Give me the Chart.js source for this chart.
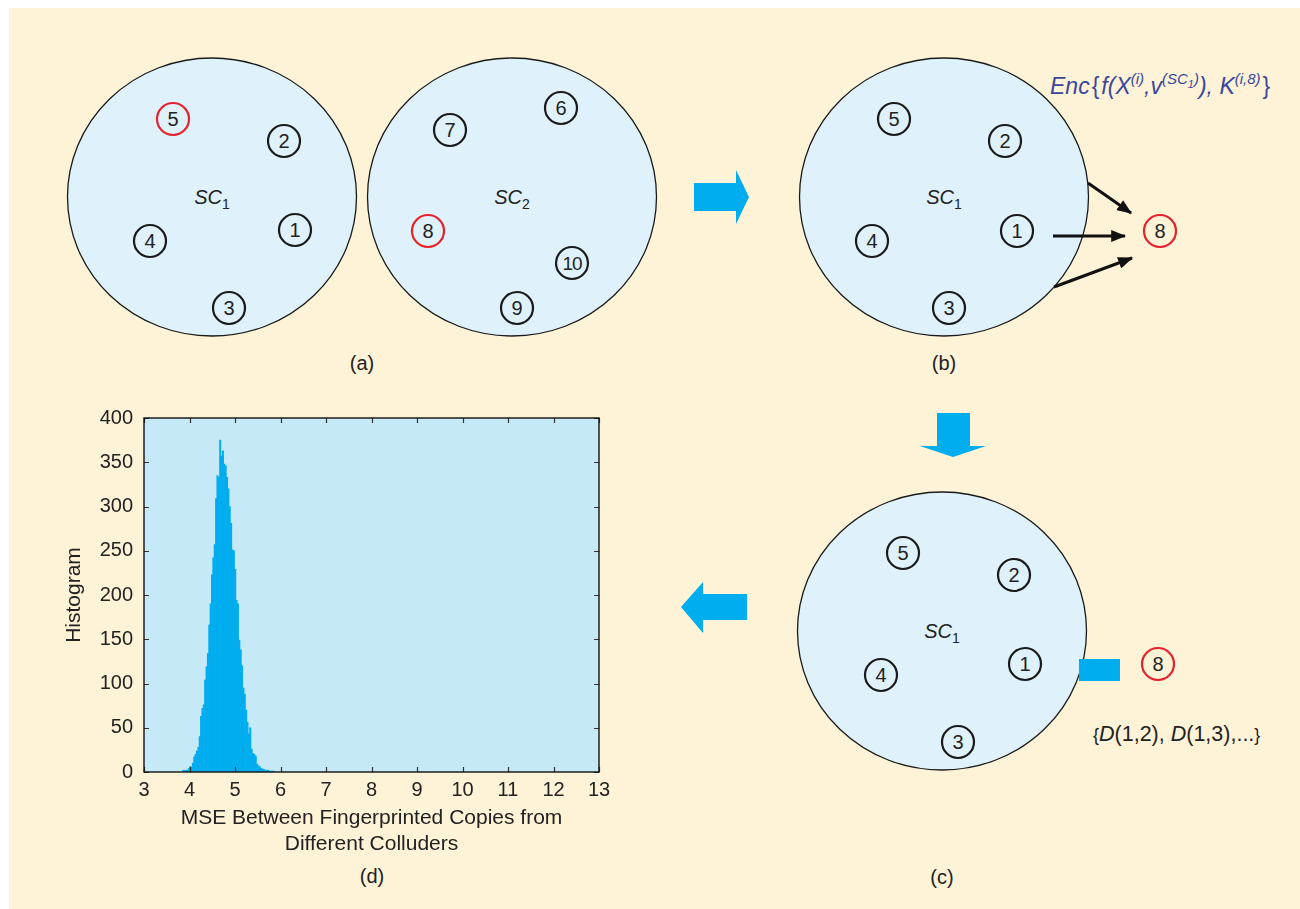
<!DOCTYPE html>
<html>
<head>
<meta charset="utf-8">
<script src="https://cdn.jsdelivr.net/npm/chart.js@4.4.0/dist/chart.umd.min.js"></script>
<style>
  html, body { margin: 0; padding: 0; background: #ffffff; }
  #page { position: relative; width: 1300px; height: 909px; overflow: hidden; font-family: "Liberation Sans", Arial, sans-serif; }
  #cream { position: absolute; left: 9px; top: 8px; right: 0; bottom: 0; background: #fef3d7; }
  #art { position: absolute; left: 0; top: 0; }
  #histo { position: absolute; left: 60px; top: 395px; }
  .lab { position: absolute; font-size: 20px; color: #222; transform: translate(-50%, -50%); white-space: nowrap; }
</style>
</head>
<body>
<div id="page">
  <div id="cream"></div>
  <svg id="art" width="1300" height="909"></svg>
  <canvas id="histo" width="560" height="466"></canvas>
  <div class="lab" style="left:372px; top:876px;">(d)</div>
</div>

<script>
// histogram of MSE between fingerprinted copies
const binCenters = [
  3.865, 3.895, 3.925, 3.955, 3.985, 4.015, 4.045, 4.075, 4.105, 4.135,
  4.165, 4.195, 4.225, 4.255, 4.285, 4.315, 4.345, 4.375, 4.405, 4.435,
  4.465, 4.495, 4.525, 4.555, 4.585, 4.615, 4.645, 4.675, 4.705, 4.735,
  4.765, 4.795, 4.825, 4.855, 4.885, 4.915, 4.945, 4.975, 5.005, 5.035,
  5.065, 5.095, 5.125, 5.155, 5.185, 5.215, 5.245, 5.275, 5.305, 5.335,
  5.365, 5.395, 5.425, 5.455, 5.485, 5.515, 5.545, 5.575, 5.605, 5.635,
  5.665, 5.695, 5.725, 5.755, 5.785, 5.815, 5.845, 5.875
];
const binCounts = [
  2, 2, 2, 2, 4, 6, 6, 10, 17, 20,
  24, 28, 40, 63, 72, 76, 104, 119, 134, 166,
  190, 223, 242, 257, 309, 335, 333, 375, 357, 363,
  348, 346, 333, 320, 300, 281, 251, 250, 229, 194,
  190, 149, 138, 120, 95, 88, 70, 56, 43, 50,
  26, 21, 20, 18, 9, 7, 6, 4, 3.5, 3,
  2, 2, 2, 1, 1, 1, 1, 0.5
];
const xTickLabels = ['3', '4', '5', '6', '7', '8', '9', '10', '11', '12', '13'];
const yTickLabels = ['0', '50', '100', '150', '200', '250', '300', '350', '400'];
const xTitle = ['MSE Between Fingerprinted Copies from', 'Different Colluders'];
const yTitle = 'Histogram';

// ---------- diagram panels (a), (b), (c) ----------
const NS = 'http://www.w3.org/2000/svg';
const svg = document.getElementById('art');
const FONT = '"Liberation Sans", Arial, sans-serif';

function el(tag, attrs, parent) {
  const e = document.createElementNS(NS, tag);
  for (const k in attrs) e.setAttribute(k, attrs[k]);
  (parent || svg).appendChild(e);
  return e;
}

function bigCircle(cx, cy, sub) {
  el('ellipse', { cx, cy, rx: 144.5, ry: 139, fill: '#dff2fb', stroke: '#1a1a1a', 'stroke-width': 1.3 });
  const t = el('text', { x: cx, y: cy + 7, 'text-anchor': 'middle', 'font-family': FONT, 'font-size': 20, fill: '#222' });
  const a = el('tspan', { 'font-style': 'italic' }, t); a.textContent = 'SC';
  const b = el('tspan', { dy: 5, 'font-size': 14 }, t); b.textContent = sub;
}

function node(cx, cy, label, red) {
  el('circle', { cx, cy, r: 16, fill: 'none', stroke: red ? '#e4222c' : '#1a1a1a', 'stroke-width': 2.2 });
  const t = el('text', { x: cx, y: cy + 7, 'text-anchor': 'middle', 'font-family': FONT, 'font-size': label.length > 1 ? 19 : 20, fill: '#222' });
  if (label.length > 1) t.setAttribute('letter-spacing', -1);
  t.textContent = label;
}

function label(x, y, txt) {
  const t = el('text', { x, y, 'text-anchor': 'middle', 'font-family': FONT, 'font-size': 20, fill: '#222' });
  t.textContent = txt;
}

const panels = [
  { cx: 212, cy: 197, sub: '1', nodes: [[173, 119, '5', true], [284, 141, '2'], [295, 230, '1'], [150, 241, '4'], [229, 308, '3']] },
  { cx: 512, cy: 197, sub: '2', nodes: [[450, 130, '7'], [561, 108, '6'], [428, 231, '8', true], [572, 263, '10'], [517, 308, '9']] },
  { cx: 944, cy: 197, sub: '1', nodes: [[894, 119, '5'], [1005, 141, '2'], [1017, 231, '1'], [872, 241, '4'], [949, 308, '3']] },
  { cx: 942, cy: 631, sub: '1', nodes: [[903, 553, '5'], [1014, 575, '2'], [1025, 664, '1'], [881, 675, '4'], [958, 742, '3']] }
];
panels.forEach(p => {
  bigCircle(p.cx, p.cy, p.sub);
  p.nodes.forEach(n => node(n[0], n[1], n[2], n[3]));
});

// red node 8 outside (b) and (c)
node(1160, 231, '8', true);
node(1158, 664, '8', true);

// black arrows in (b)
const defs = el('defs', {});
const mk = el('marker', { id: 'ah', markerWidth: 5, markerHeight: 4, refX: 4.6, refY: 2, orient: 'auto', markerUnits: 'strokeWidth' }, defs);
el('path', { d: 'M0,0 L5,2 L0,4 Z', fill: '#111' }, mk);
[[1088, 183, 1131, 213], [1053, 236, 1125, 236], [1054, 287, 1132, 258]].forEach(a => {
  el('line', { x1: a[0], y1: a[1], x2: a[2], y2: a[3], stroke: '#111', 'stroke-width': 3, 'marker-end': 'url(#ah)' });
});

// blue flow arrows
const blue = '#00aeef';
el('polygon', { points: '694,183 736,183 736,170 749,197 736,224 736,211 694,211', fill: blue });
el('polygon', { points: '937,413 970,413 970,446 986,446 953,457 920,446 937,446', fill: blue });
el('polygon', { points: '747,594 703,594 703,582 681,607 703,633 703,620 747,620', fill: blue });
el('rect', { x: 1079, y: 659, width: 41, height: 22, fill: blue });

// panel captions
label(362, 370, '(a)');
label(944, 370, '(b)');
label(942, 884, '(c)');

// Enc{...} annotation
(function () {
  const t = el('text', { x: 1050, y: 94, 'font-family': FONT, 'font-size': 23, fill: '#3a479c', 'font-style': 'italic' });
  const parts = [
    ['Enc', 0, 23], ['{', 0, 23], ['f', 0, 23], ['(', 0, 23], ['X', 0, 23],
    ['(i)', -10, 15], [',', 10, 23], ['v', 0, 23], ['(SC', -10, 15], ['1', 4, 11], [')', -4, 15],
    [')', 10, 23], [', ', 0, 23], ['K', 0, 23], ['(i,8)', -10, 15], ['}', 10, 23]
  ];
  parts.forEach(p => {
    const s = el('tspan', { dy: p[1], 'font-size': p[2] }, t);
    if (p[0] === '{' || p[0] === '}') s.setAttribute('font-style', 'normal');
    if (p[0] === '{' || p[0] === 'f' || p[0] === '}') s.setAttribute('dx', 2);
    s.textContent = p[0];
  });
})();

// {D(1,2), D(1,3),...}
(function () {
  const t = el('text', { x: 1093, y: 741, 'font-family': FONT, 'font-size': 21.5, fill: '#222' });
  [['{', 'normal', 18], ['D', 'italic', 21.5], ['(1,2), ', 'normal', 21.5], ['D', 'italic', 21.5], ['(1,3),...', 'normal', 21.5], ['}', 'normal', 18]].forEach(p => {
    const s = el('tspan', { 'font-style': p[1], 'font-size': p[2] }, t);
    s.textContent = p[0];
  });
})();

// ---------- panel (d): histogram ----------
const plotFrame = {
  id: 'plotFrame',
  beforeDraw(chart) {
    const { ctx, chartArea: a } = chart;
    ctx.save();
    ctx.fillStyle = '#c6e9f8';
    ctx.fillRect(a.left, a.top, a.right - a.left, a.bottom - a.top);
    ctx.restore();
  },
  afterDatasetsDraw(chart) {
    const { ctx, chartArea: a, scales } = chart;
    ctx.save();
    ctx.strokeStyle = '#333';
    ctx.lineWidth = 1.2;
    ctx.beginPath();
    scales.x.ticks.forEach(t => {
      const px = Math.round(scales.x.getPixelForValue(t.value)) + 0.5;
      ctx.moveTo(px, a.bottom); ctx.lineTo(px, a.bottom - 5);
      ctx.moveTo(px, a.top); ctx.lineTo(px, a.top + 5);
    });
    scales.y.ticks.forEach(t => {
      const py = Math.round(scales.y.getPixelForValue(t.value)) + 0.5;
      ctx.moveTo(a.left, py); ctx.lineTo(a.left + 5, py);
      ctx.moveTo(a.right, py); ctx.lineTo(a.right - 5, py);
    });
    ctx.stroke();
    ctx.strokeStyle = '#111';
    ctx.lineWidth = 1.4;
    ctx.strokeRect(a.left, a.top, a.right - a.left, a.bottom - a.top);
    ctx.restore();
  }
};

const tickFont = { family: FONT, size: 20 };

new Chart(document.getElementById('histo'), {
  type: 'bar',
  data: {
    datasets: [{
      data: binCenters.map((x, i) => ({ x: x, y: binCounts[i] })),
      backgroundColor: '#00adee',
      borderWidth: 0,
      barPercentage: 1,
      categoryPercentage: 1
    }]
  },
  options: {
    responsive: false,
    animation: false,
    layout: { padding: { top: 18, right: 21, left: 0, bottom: 0 } },
    plugins: { legend: { display: false }, tooltip: { enabled: false } },
    scales: {
      x: {
        type: 'linear', min: 3, max: 13, offset: false,
        grid: { display: false, drawTicks: false },
        border: { display: false },
        ticks: {
          stepSize: 1, padding: 6, color: '#222', font: tickFont, maxRotation: 0,
          callback: (v) => xTickLabels[v - 3]
        },
        title: { display: true, text: xTitle, color: '#222', font: { family: FONT, size: 21, lineHeight: 1.24 }, padding: { top: 4, bottom: 4 } },
        afterFit: (s) => { s.height = 89; }
      },
      y: {
        min: 0, max: 400,
        grid: { display: false, drawTicks: false },
        border: { display: false },
        ticks: {
          stepSize: 50, padding: 11, color: '#222', font: tickFont,
          callback: (v) => yTickLabels[v / 50]
        },
        title: { display: true, text: yTitle, color: '#222', font: { family: FONT, size: 21 }, padding: { top: 2, bottom: 4 } },
        afterFit: (s) => { s.width = 84; }
      }
    }
  },
  plugins: [plotFrame]
});
</script>
</body>
</html>
